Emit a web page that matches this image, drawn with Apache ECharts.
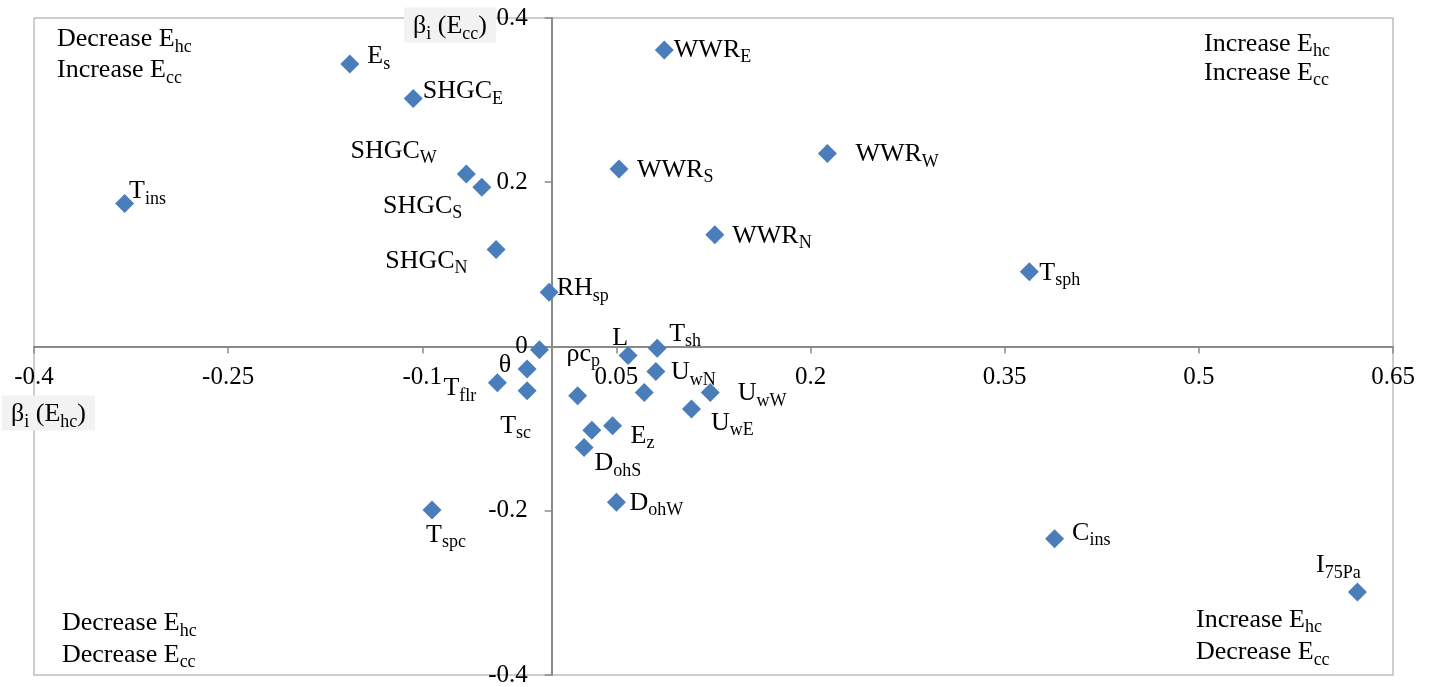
<!DOCTYPE html>
<html>
<head>
<meta charset="utf-8">
<script src="https://cdn.jsdelivr.net/npm/echarts@6/dist/echarts.min.js"></script>
<style>
  html, body { margin: 0; padding: 0; background: #fff; }
  #chart { width: 1432px; height: 687px; }
</style>
</head>
<body>
<div id="chart"></div>
<script>
// --- data: standardised regression coefficients ---
// '_' marks the start of a subscript, '' = point without a label
const NAMES = [
  'E_s', 'SHGC_E', 'SHGC_W', 'SHGC_S', 'SHGC_N', 'T_ins',
  'WWR_E', 'WWR_S', 'WWR_W', 'WWR_N', 'T_sph', 'RH_sp',
  'ρc_p', 'θ', 'T_flr', 'T_sc', '', 'L', 'T_sh', 'U_wN', '',
  'U_wW', 'U_wE', 'E_z', '', 'D_ohS', 'D_ohW', 'T_spc', 'C_ins', 'I_75Pa'
];
// beta_i(E_hc), horizontal
const BETA_HC = [
  -0.156, -0.107, -0.066, -0.054, -0.043, -0.330,
  0.087, 0.052, 0.213, 0.126, 0.369, -0.002,
  -0.0095, -0.019, -0.042, -0.019, 0.020, 0.059, 0.0815, 0.0805, 0.0715,
  0.1225, 0.108, 0.047, 0.031, 0.025, 0.050, -0.0925, 0.3885, 0.6225
];
// beta_i(E_cc), vertical
const BETA_CC = [
  0.344, 0.302, 0.210, 0.194, 0.118, 0.174,
  0.361, 0.216, 0.235, 0.136, 0.091, 0.066,
  -0.004, -0.0275, -0.044, -0.054, -0.060, -0.011, -0.002, -0.0305, -0.056,
  -0.056, -0.076, -0.0965, -0.102, -0.123, -0.1895, -0.199, -0.234, -0.299
];
const X_MIN = -0.4, X_MAX = 0.65, X_STEP = 0.15;
const Y_MIN = -0.4, Y_MAX = 0.4, Y_STEP = 0.2;

const QUADRANT_TEXT = [
  ['Decrease E_hc', 'Increase E_cc'],
  ['Increase E_hc', 'Increase E_cc'],
  ['Decrease E_hc', 'Decrease E_cc'],
  ['Increase E_hc', 'Decrease E_cc']
];

// label placement (position, dx, dy)
const LABEL_LAYOUT = {
  'E_s': ['right', 3, -7.5],
  'SHGC_E': ['right', -5, -7],
  'SHGC_W': ['left', -15, -23],
  'SHGC_S': ['left', -5, 19],
  'SHGC_N': ['left', -14, 11.5],
  'T_ins': ['right', -10, -12],
  'WWR_E': ['right', -5, 0],
  'WWR_S': ['right', 3.5, 1],
  'WWR_W': ['right', 13.5, 1],
  'WWR_N': ['right', 3, 1],
  'T_sph': ['right', -4.5, 1],
  'RH_sp': ['right', -7, -4],
  'ρc_p': ['right', 12.5, 4],
  'θ': ['left', -1.5, -4],
  'T_flr': ['left', -6.5, 6],
  'T_sc': ['inside', -11.5, 35],
  'L': ['inside', -8, -17],
  'T_sh': ['right', -2.5, -14],
  'U_wN': ['right', 0.5, 1],
  'U_wW': ['right', 13, 1],
  'U_wE': ['right', 5, 14],
  'E_z': ['right', 3.5, 10],
  'D_ohS': ['right', -4, 16],
  'D_ohW': ['right', -1.5, 1],
  'T_spc': ['inside', 14, 25],
  'C_ins': ['right', 3, -6],
  'I_75Pa': ['inside', -19, -26.5]
};

const FONT = 'Liberation Serif, Times New Roman, serif';
const BLUE = '#4a7ebb';
const AXIS_GRAY = '#8a8a8a';

// plot box in pixels; the two axes cross at (0, 0) inside it
const GRID = { left: 34, right: 39, top: 18, bottom: 12 };
const PLOT_W = 1432 - GRID.left - GRID.right;
const PLOT_H = 687 - GRID.top - GRID.bottom;
const X_ZERO_SHIFT = -PLOT_W * (0 - X_MIN) / (X_MAX - X_MIN);  // y axis moved right
const Y_ZERO_SHIFT = -PLOT_H * (0 - Y_MIN) / (Y_MAX - Y_MIN);  // x axis moved up

const RICH = {
  s: { fontFamily: FONT, fontSize: 18, lineHeight: 18, padding: [15, 0, 0, 0], color: '#000' }
};

// 'T_sph' -> 'T{s|sph}'
const toRich = (name) => {
  const k = name.indexOf('_');
  return k < 0 ? name : name.slice(0, k) + '{s|' + name.slice(k + 1) + '}';
};

const fmt = (v) => String(+v.toFixed(2));

const points = NAMES.map((n, i) => {
  const lay = LABEL_LAYOUT[n];
  return {
    name: n,
    value: [BETA_HC[i], BETA_CC[i]],
    label: lay
      ? { show: true, position: lay[0], offset: [lay[1], lay[2]] }
      : { show: false }
  };
});

// quadrant notes and axis titles
const textEl = (str, x, y, extra) => ({
  type: 'text',
  x: x, y: y,
  silent: true,
  style: Object.assign({
    text: str,
    rich: RICH,
    fontFamily: FONT,
    fontSize: 26,
    lineHeight: 26,
    fill: '#000',
    align: 'left',
    verticalAlign: 'middle'
  }, extra || {})
});

const QUAD_POS = [[57, 39.5, 31], [1204, 43.7, 29.5], [62, 623.5, 31.5], [1196, 620, 32.5]];
const graphics = [];
QUADRANT_TEXT.forEach((lines, q) => {
  const p = QUAD_POS[q];
  lines.forEach((t, j) => graphics.push(textEl(toRich(t), p[0], p[1] + j * p[2])));
});
const TITLE_BOX = { backgroundColor: '#f2f2f2', padding: [6, 9, 3, 9] };
graphics.push(textEl('β{s|i} (E{s|cc})', 404, 25, TITLE_BOX));
graphics.push(textEl('β{s|i} (E{s|hc})', 2, 413, TITLE_BOX));

const chart = echarts.init(document.getElementById('chart'));
chart.setOption({
  animation: false,
  backgroundColor: '#fff',
  grid: {
    left: GRID.left, right: GRID.right, top: GRID.top, bottom: GRID.bottom,
    outerBoundsMode: 'none',
    containLabel: false,
    show: true,
    borderColor: '#bdbdbd',
    borderWidth: 1.5
  },
  xAxis: {
    type: 'value',
    position: 'bottom',
    offset: Y_ZERO_SHIFT,
    min: X_MIN, max: X_MAX, interval: X_STEP,
    axisLine: { onZero: false, lineStyle: { color: AXIS_GRAY, width: 2 } },
    axisTick: { show: true, length: 7, lineStyle: { color: AXIS_GRAY, width: 1.5 } },
    axisLabel: { margin: 18, color: '#000', fontFamily: FONT, fontSize: 25, formatter: fmt },
    splitLine: { show: false }
  },
  yAxis: {
    type: 'value',
    position: 'left',
    offset: X_ZERO_SHIFT,
    min: Y_MIN, max: Y_MAX, interval: Y_STEP,
    axisLine: { onZero: false, lineStyle: { color: AXIS_GRAY, width: 2 } },
    axisTick: { show: true, length: 7, lineStyle: { color: AXIS_GRAY, width: 1.5 } },
    axisLabel: { margin: 24, color: '#000', fontFamily: FONT, fontSize: 25, formatter: fmt },
    splitLine: { show: false }
  },
  graphic: graphics,
  series: [{
    type: 'scatter',
    symbol: 'diamond',
    symbolSize: 19,
    itemStyle: { color: BLUE, opacity: 1 },
    label: {
      formatter: (p) => toRich(p.name),
      rich: RICH,
      color: '#000',
      fontFamily: FONT,
      fontSize: 26,
      lineHeight: 26
    },
    data: points
  }]
});
</script>
</body>
</html>
